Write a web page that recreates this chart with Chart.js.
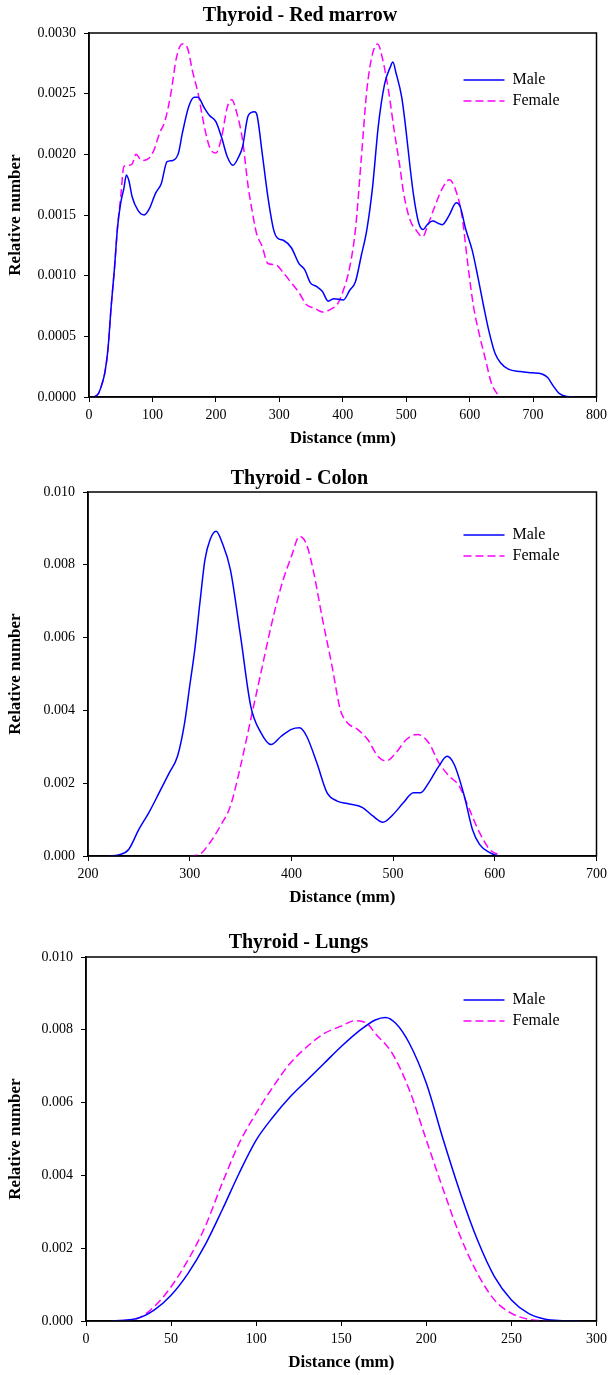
<!DOCTYPE html>
<html>
<head>
<meta charset="utf-8">
<script src="https://cdn.jsdelivr.net/npm/chart.js@4.4.1/dist/chart.umd.min.js"></script>
<style>
  html, body { margin: 0; padding: 0; background: #fff; overflow: hidden; }
  .box { position: absolute; left: 0; width: 612px; height: 460px; }
</style>
</head>
<body>
<div class="box" style="top:0"><canvas id="c1" width="612" height="460"></canvas></div>
<div class="box" style="top:459px"><canvas id="c2" width="612" height="460"></canvas></div>
<div class="box" style="top:924px"><canvas id="c3" width="612" height="460"></canvas></div>
<script>
// Thyroid - Red marrow
const marrowMaleX = [8,15,20,25,30,35,40,45,50,55,59,63,68,77,87,95,105,114,123,132,141,147,157,166,172,181,190,200,209,218,227,236,242,251,261,265,273,282,291,297,307,319,331,340,349,359,368,377,386,401,411,420,429,438,447,456,466,475,479,484,493,499,506,512,520,527,533,542,551,557,567,579,585,594,604,613,622,631,640,649,661,680,698,714,723,732,741,753,769]
const marrowMaleY = [0,0.00003,0.0001,0.0002,0.0004,0.00075,0.00105,0.0014,0.0016,0.00172,0.00183,0.00178,0.00165,0.00154,0.0015,0.00155,0.00168,0.00176,0.00194,0.00195,0.00201,0.00217,0.00239,0.00247,0.00247,0.00239,0.00232,0.00227,0.00214,0.00198,0.00191,0.00198,0.00206,0.00232,0.00235,0.00232,0.00201,0.00165,0.00138,0.00131,0.00129,0.00123,0.0011,0.00105,0.00094,0.00091,0.00087,0.00079,0.00081,0.0008,0.00088,0.00095,0.00116,0.00138,0.00173,0.00223,0.00258,0.00272,0.00276,0.00267,0.00247,0.00223,0.0019,0.00165,0.00143,0.00138,0.00142,0.00145,0.00143,0.00142,0.00149,0.0016,0.00157,0.00138,0.00121,0.00099,0.00075,0.00053,0.00036,0.00028,0.00023,0.00021,0.0002,0.00019,0.00016,0.00009,0.00003,0.000005,0]
const marrowFemaleX = [8,15,20,25,30,35,40,45,50,55,62,68,74,83,95,102,111,120,129,138,147,155,163,172,181,190,200,209,218,225,233,242,251,258,264,273,282,294,307,319,331,343,356,368,380,392,401,411,420,429,438,447,455,463,472,481,490,496,506,515,526,533,545,557,568,579,588,597,606,616,625,634,643,649]
const marrowFemaleY = [0,0.00003,0.0001,0.0002,0.0004,0.00075,0.00105,0.0014,0.00165,0.0019,0.00191,0.00192,0.002,0.00195,0.00197,0.00203,0.00217,0.00228,0.0025,0.0028,0.00291,0.00288,0.00269,0.0025,0.00225,0.00206,0.00201,0.00214,0.00239,0.00245,0.00234,0.00212,0.00173,0.00151,0.00135,0.00124,0.0011,0.00109,0.00102,0.00094,0.00086,0.00076,0.00073,0.0007,0.00072,0.00077,0.00088,0.00107,0.00138,0.00195,0.00253,0.00283,0.00291,0.00278,0.00253,0.0022,0.0019,0.00168,0.00146,0.00138,0.00132,0.0014,0.00157,0.00172,0.00179,0.00169,0.00149,0.0011,0.00075,0.0005,0.00031,0.00012,0.00003,0]

// Thyroid - Colon
const colonMaleX = [220,230,240,250,260,270,280,288,295,300,305,310,315,320,326,332,340,350,360,370,380,390,400,408,415,425,435,445,455,470,480,490,500,510,520,527,535,545,553,560,570,578,585,595,603]
const colonMaleY = [0,0.00003,0.00018,0.00073,0.0012,0.00174,0.00229,0.00274,0.00366,0.00467,0.00567,0.00695,0.00814,0.00869,0.00892,0.0086,0.00787,0.00604,0.00412,0.00339,0.00306,0.00329,0.00348,0.00352,0.00329,0.00256,0.00174,0.00151,0.00144,0.00133,0.0011,0.00093,0.00114,0.00146,0.00174,0.00174,0.00201,0.00247,0.00274,0.00252,0.00165,0.00073,0.00032,0.00009,0]
const colonFemaleX = [300,310,320,330,340,350,360,370,380,390,400,408,415,422,430,440,448,455,465,475,485,493,503,513,524,535,545,555,565,575,585,595,607]
const colonFemaleY = [0,0.00005,0.00037,0.00082,0.00137,0.00247,0.00375,0.00503,0.00631,0.00741,0.00823,0.00878,0.00855,0.00778,0.00659,0.00521,0.00403,0.00366,0.00348,0.0032,0.00274,0.00261,0.00284,0.0032,0.00334,0.00311,0.00256,0.0022,0.00192,0.00128,0.00064,0.00018,0]

// Thyroid - Lungs
const lungsMaleX = [15,30,40,50,60,70,80,90,100,110,120,130,140,150,160,170,176,182,190,200,210,220,230,240,250,260,270,280,290]
const lungsMaleY = [0,0.00007,0.0003,0.00071,0.00131,0.00209,0.00305,0.00406,0.00497,0.00561,0.00616,0.00662,0.00708,0.00754,0.00795,0.00827,0.00834,0.00818,0.00763,0.00653,0.00497,0.00351,0.00223,0.00122,0.00058,0.00021,0.00005,0.00001,0]
const lungsFemaleX = [15,30,40,50,60,70,80,90,100,110,120,130,140,150,158,165,170,180,190,200,210,220,230,240,250,260,275]
const lungsFemaleY = [0,0.00007,0.00039,0.00094,0.00168,0.00259,0.00378,0.00488,0.00571,0.00644,0.00708,0.00754,0.0079,0.0081,0.00825,0.00818,0.0079,0.00735,0.00635,0.00497,0.0036,0.00232,0.00131,0.00058,0.00021,0.00005,0]

const seriesLabels = ['Male', 'Female']

const SERIF = '"Liberation Serif", "Times New Roman", serif'

const pts = (xs, ys) => xs.map((x, i) => ({ x, y: ys[i] }))

// top and right edges of the box round the plot
const frame = {
	id: 'frame',
	afterDatasetsDraw(chart) {
		const { ctx, chartArea: a } = chart
		ctx.save()
		ctx.strokeStyle = '#000'
		ctx.lineWidth = 1.5
		ctx.strokeRect(a.left, a.top, a.right - a.left, a.bottom - a.top)
		ctx.restore()
	}
}

// move the legend to the upper right, inside the plot
const legendPlace = {
	id: 'legendPlace',
	afterLayout(chart, args, opts) {
		const lg = chart.legend
		lg.left = chart.chartArea.right - opts.right
		lg.top = chart.chartArea.top + opts.top
	}
}

// legend lines take the dash of their dataset
function legendLabels(chart) {
	const items = Chart.defaults.plugins.legend.labels.generateLabels(chart)
	items.forEach((it) => {
		const ds = chart.data.datasets[it.datasetIndex]
		it.lineDash = ds.borderDash || []
		it.lineWidth = ds.borderWidth
		it.strokeStyle = ds.borderColor
	})
	return items
}

function makeChart(id, title, maleX, maleY, femaleX, femaleY, x, y, box) {
	const ctx = document.getElementById(id).getContext('2d')
	new Chart(ctx, {
		type: 'line',
		data: {
			datasets: [
				{
					label: seriesLabels[0],
					data: pts(maleX, maleY),
					borderColor: '#0000ff',
					backgroundColor: '#0000ff',
					borderWidth: 1.5,
					pointRadius: 0,
					cubicInterpolationMode: 'monotone'
				},
				{
					label: seriesLabels[1],
					data: pts(femaleX, femaleY),
					borderColor: '#ff00ff',
					backgroundColor: '#ff00ff',
					borderWidth: 1.5,
					borderDash: [8, 4],
					pointRadius: 0,
					cubicInterpolationMode: 'monotone'
				}
			]
		},
		options: {
			responsive: false,
			animation: false,
			layout: { padding: { left: 0, right: box.right, top: 0, bottom: 0 } },
			plugins: {
				title: {
					display: true,
					text: title,
					color: '#000',
					font: { family: SERIF, size: 20, weight: 'bold' },
					padding: { top: box.titleTop, bottom: 9 - box.titleTop }
				},
				legend: {
					position: 'chartArea',
					align: 'start',
					labels: {
						usePointStyle: true,
						pointStyle: 'line',
						pointStyleWidth: 41,
						color: '#000',
						font: { family: SERIF, size: 16 },
						padding: 5,
						generateLabels: legendLabels
					}
				},
				legendPlace: { right: 138, top: box.legendTop },
				tooltip: { enabled: false }
			},
			scales: {
				x: {
					type: 'linear',
					min: x.min,
					max: x.max,
					afterFit(s) { s.height = 63 },
					ticks: {
						stepSize: x.step,
						autoSkip: false,
						maxRotation: 0,
						color: '#000',
						padding: 5,
						font: { family: SERIF, size: 14 }
					},
					grid: { drawOnChartArea: false, tickLength: 5, color: '#000', lineWidth: 1 },
					border: { color: '#000', width: 1.5 },
					title: {
						display: true,
						text: 'Distance (mm)',
						color: '#000',
						font: { family: SERIF, size: 17, weight: 'bold' },
						padding: { top: 0, bottom: 11 }
					}
				},
				y: {
					min: 0,
					max: y.max,
					afterFit(s) { s.width = box.left },
					ticks: {
						stepSize: y.step,
						autoSkip: false,
						color: '#000',
						padding: 8,
						font: { family: SERIF, size: 14 },
						callback: (v) => v.toFixed(y.dec)
					},
					grid: { drawOnChartArea: false, tickLength: 5, color: '#000', lineWidth: 1 },
					border: { color: '#000', width: 1.5 },
					title: {
						display: true,
						text: 'Relative number',
						color: '#000',
						font: { family: SERIF, size: 17, weight: 'bold' },
						padding: { top: 5, bottom: 0 }
					}
				}
			}
		},
		plugins: [frame, legendPlace]
	})
}

makeChart('c1', 'Thyroid - Red marrow', marrowMaleX, marrowMaleY, marrowFemaleX, marrowFemaleY,
	{ min: 0, max: 800, step: 100 }, { max: 0.003, step: 0.0005, dec: 4 }, { left: 89, right: 12, legendTop: 34, titleTop: 4 })
makeChart('c2', 'Thyroid - Colon', colonMaleX, colonMaleY, colonFemaleX, colonFemaleY,
	{ min: 200, max: 700, step: 100 }, { max: 0.01, step: 0.002, dec: 3 }, { left: 88, right: 13, legendTop: 30, titleTop: 8 })
makeChart('c3', 'Thyroid - Lungs', lungsMaleX, lungsMaleY, lungsFemaleX, lungsFemaleY,
	{ min: 0, max: 300, step: 50 }, { max: 0.01, step: 0.002, dec: 3 }, { left: 86, right: 15, legendTop: 30, titleTop: 7 })
</script>
</body>
</html>
